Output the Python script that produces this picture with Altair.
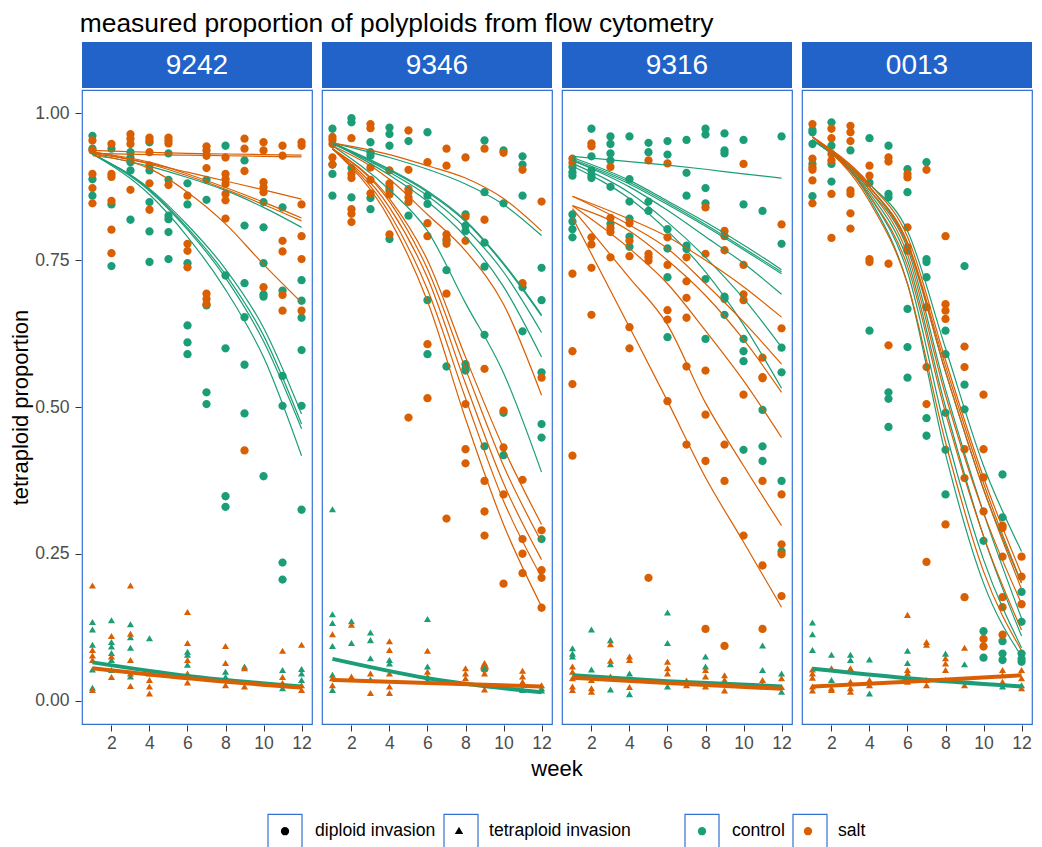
import altair as alt
import pandas as pd

PANELS = ["9242", "9346", "9316", "0013"]
TREATMENTS = ["control", "salt"]
INVASIONS = ["diploid invasion", "tetraploid invasion"]
GREEN, ORANGE = "#1b9e77", "#d95f02"
STRIP = "#2163c9"
BORDER = "#3571d3"
W, H = 230, 634

# ---------------- observed points (week -> values) ----------------
dip_9242_control = {1: [0.962, 0.94, 0.888, 0.86], 2: [0.94, 0.845, 0.74], 3: [0.934, 0.925, 0.917, 0.903, 0.819],
                    4: [0.951, 0.903, 0.849, 0.799, 0.747], 5: [0.932, 0.887, 0.826, 0.82, 0.798, 0.752],
                    6: [0.881, 0.845, 0.745, 0.639, 0.61, 0.59], 7: [0.887, 0.853, 0.673, 0.525, 0.505],
                    8: [0.945, 0.724, 0.6, 0.348, 0.33], 9: [0.92, 0.809, 0.711, 0.653, 0.572, 0.489],
                    10: [0.849, 0.806, 0.745, 0.692, 0.688, 0.382], 11: [0.84, 0.698, 0.553, 0.502, 0.235, 0.206],
                    12: [0.716, 0.681, 0.652, 0.597, 0.502, 0.325]}
dip_9242_salt = {1: [0.954, 0.937, 0.897, 0.873, 0.847], 2: [0.948, 0.897, 0.892, 0.851, 0.802, 0.762],
                 3: [0.965, 0.957, 0.948, 0.87], 4: [0.959, 0.954, 0.934, 0.911, 0.881, 0.836],
                 5: [0.959, 0.954, 0.949, 0.878], 6: [0.86, 0.778, 0.766, 0.738],
                 7: [0.944, 0.937, 0.928, 0.907, 0.693, 0.684, 0.675], 8: [0.925, 0.897, 0.888, 0.88, 0.863, 0.852, 0.821],
                 9: [0.957, 0.94, 0.902, 0.426], 10: [0.951, 0.937, 0.883, 0.874, 0.866, 0.704],
                 11: [0.945, 0.928, 0.783, 0.765, 0.691, 0.664], 12: [0.951, 0.945, 0.845, 0.791, 0.752, 0.664]}
tet_9242_control = {1: [0.133, 0.12, 0.094, 0.052, 0.021], 2: [0.136, 0.099, 0.091, 0.08, 0.068, 0.051],
                    3: [0.129, 0.107, 0.089, 0.04], 4: [0.105], 6: [0.082, 0.077, 0.06], 8: [0.048, 0.039],
                    9: [0.057], 11: [0.051, 0.02], 12: [0.053, 0.045, 0.034]}
tet_9242_salt = {1: [0.195, 0.085, 0.076, 0.068, 0.017], 2: [0.109, 0.074, 0.039], 3: [0.195, 0.113, 0.068, 0.045, 0.024],
                 4: [0.045, 0.034, 0.023, 0.011], 6: [0.15, 0.097, 0.068, 0.045, 0.03], 8: [0.092, 0.063, 0.025],
                 9: [0.054, 0.023], 11: [0.084, 0.039, 0.029], 12: [0.094, 0.025, 0.017]}

dip_9346_control = {1: [0.974, 0.913, 0.897, 0.86], 2: [0.992, 0.985, 0.907, 0.857], 3: [0.951, 0.934, 0.928, 0.856, 0.837],
                    4: [0.976, 0.965, 0.945, 0.869, 0.786], 5: [0.953, 0.826], 6: [0.968, 0.86, 0.846, 0.682, 0.59],
                    7: [0.783, 0.733, 0.569], 8: [0.828, 0.809, 0.8, 0.573, 0.565, 0.562],
                    9: [0.954, 0.866, 0.78, 0.739, 0.623, 0.433], 10: [0.937, 0.847, 0.49, 0.418],
                    11: [0.927, 0.913, 0.86, 0.704, 0.629], 12: [0.737, 0.682, 0.559, 0.471, 0.448, 0.275]}
dip_9346_salt = {1: [0.96, 0.955, 0.948, 0.925, 0.913], 2: [0.958, 0.897, 0.89, 0.837, 0.829, 0.815],
                 3: [0.982, 0.975, 0.908, 0.887, 0.864], 4: [0.903, 0.881, 0.874, 0.862, 0.794],
                 5: [0.971, 0.904, 0.871, 0.866, 0.857, 0.849, 0.482], 6: [0.917, 0.813, 0.791, 0.607, 0.515],
                 7: [0.94, 0.911, 0.794, 0.786, 0.778, 0.693, 0.31], 8: [0.925, 0.824, 0.783, 0.505, 0.428, 0.404],
                 9: [0.94, 0.819, 0.565, 0.374, 0.322, 0.281, 0.054], 10: [0.933, 0.494, 0.431, 0.351, 0.199],
                 11: [0.904, 0.711, 0.376, 0.275, 0.25, 0.217], 12: [0.85, 0.55, 0.29, 0.222, 0.209, 0.158]}
tet_9346_control = {1: [0.325, 0.146, 0.131, 0.092, 0.043, 0.017], 2: [0.134, 0.097], 3: [0.115, 0.102, 0.071, 0.035],
                    4: [0.068, 0.062], 6: [0.138, 0.057, 0.034], 9: [0.054], 11: [0.017], 12: [0.02, 0.016]}
tet_9346_salt = {1: [0.112, 0.037, 0.025], 2: [0.128, 0.04], 3: [0.045, 0.012], 4: [0.1, 0.085, 0.045, 0.023, 0.012],
                 6: [0.084, 0.048, 0.04], 8: [0.054, 0.045, 0.037], 9: [0.063, 0.045, 0.018],
                 11: [0.05, 0.04, 0.031], 12: [0.025]}

dip_9316_control = {1: [0.909, 0.9, 0.894, 0.828, 0.816, 0.803, 0.789], 2: [0.974, 0.927, 0.903, 0.894, 0.89],
                    3: [0.961, 0.948, 0.932, 0.92, 0.875, 0.812], 4: [0.961, 0.888, 0.85, 0.821, 0.79, 0.773],
                    5: [0.95, 0.934, 0.85, 0.834], 6: [0.953, 0.93, 0.803, 0.77, 0.721, 0.619],
                    7: [0.955, 0.899, 0.86, 0.775, 0.769], 8: [0.974, 0.964, 0.873, 0.847, 0.718, 0.616],
                    9: [0.966, 0.937, 0.932, 0.688, 0.684, 0.657], 10: [0.955, 0.845, 0.616, 0.595, 0.578, 0.427],
                    11: [0.834, 0.495, 0.433, 0.408], 12: [0.961, 0.778, 0.601, 0.559, 0.374, 0.254]}
dip_9316_salt = {1: [0.923, 0.916, 0.727, 0.595, 0.539, 0.417], 2: [0.949, 0.944, 0.789, 0.777, 0.737, 0.657],
                 3: [0.909, 0.822, 0.805, 0.798, 0.755], 4: [0.813, 0.783, 0.757, 0.636, 0.6],
                 5: [0.92, 0.761, 0.755, 0.749, 0.209], 6: [0.915, 0.789, 0.742, 0.665, 0.649, 0.51],
                 7: [0.755, 0.714, 0.686, 0.652, 0.569, 0.436], 8: [0.84, 0.761, 0.562, 0.487, 0.408, 0.122],
                 9: [0.8, 0.791, 0.767, 0.436, 0.374, 0.093], 10: [0.914, 0.742, 0.692, 0.682, 0.521, 0.281],
                 11: [0.584, 0.551, 0.549, 0.374, 0.23, 0.122], 12: [0.811, 0.634, 0.351, 0.266, 0.249, 0.178]}
tet_9316_control = {1: [0.088, 0.079, 0.074], 2: [0.12, 0.052], 3: [0.102, 0.061, 0.018], 4: [0.045, 0.01],
                    6: [0.149, 0.097, 0.023], 8: [0.074, 0.057], 9: [0.033], 11: [0.093, 0.051], 12: [0.045, 0.014]}
tet_9316_salt = {1: [0.057, 0.048, 0.037, 0.023, 0.017], 2: [0.034, 0.02, 0.014], 3: [0.095, 0.067, 0.04],
                 4: [0.074, 0.068, 0.022], 6: [0.065, 0.054, 0.045], 7: [0.033, 0.025], 8: [0.051, 0.04, 0.023],
                 9: [0.042, 0.034, 0.016], 11: [0.034, 0.025], 12: [0.037, 0.022]}

dip_0013_control = {1: [0.972, 0.968, 0.948, 0.914, 0.859], 2: [0.985, 0.945, 0.914, 0.884], 3: [0.937],
                    4: [0.958, 0.882, 0.63], 5: [0.945, 0.863, 0.857, 0.525, 0.514, 0.466],
                    6: [0.905, 0.866, 0.667, 0.602, 0.55], 7: [0.917, 0.752, 0.747, 0.721, 0.481, 0.451],
                    8: [0.63, 0.59, 0.49, 0.427, 0.351], 9: [0.74, 0.538, 0.496], 10: [0.272, 0.118, 0.073],
                    11: [0.385, 0.312, 0.101, 0.08, 0.069], 12: [0.185, 0.134, 0.08, 0.071, 0.066]}
dip_0013_salt = {1: [0.982, 0.923, 0.908, 0.904, 0.886, 0.847], 2: [0.974, 0.958, 0.931, 0.92, 0.863, 0.788],
                 3: [0.979, 0.968, 0.953, 0.869, 0.863, 0.83, 0.804], 4: [0.911, 0.894, 0.752, 0.747],
                 5: [0.925, 0.918, 0.744, 0.605], 6: [0.897, 0.891, 0.806, 0.772, 0.766],
                 7: [0.904, 0.67, 0.568, 0.505, 0.236], 8: [0.791, 0.675, 0.664, 0.65, 0.3],
                 9: [0.603, 0.568, 0.428, 0.379, 0.176], 10: [0.521, 0.428, 0.38, 0.322, 0.105, 0.092],
                 11: [0.298, 0.294, 0.245, 0.176, 0.159, 0.112], 12: [0.245, 0.211, 0.164]}
tet_0013_control = {1: [0.132, 0.112, 0.085], 2: [0.077, 0.034], 3: [0.077, 0.068], 4: [0.069, 0.011],
                    6: [0.084, 0.063], 8: [0.079, 0.034], 9: [0.061], 11: [0.023], 12: [0.025]}
tet_0013_salt = {1: [0.052, 0.045, 0.038, 0.023, 0.016], 2: [0.054, 0.02, 0.017], 3: [0.054, 0.031, 0.02, 0.014],
                 4: [0.034, 0.025], 6: [0.145, 0.051, 0.045, 0.031], 7: [0.099, 0.094, 0.034, 0.025],
                 8: [0.071, 0.062, 0.051], 9: [0.089, 0.025], 11: [0.051, 0.042, 0.031], 12: [0.051, 0.037, 0.02]}

# ---------------- fitted curves, read at these weeks ----------------
CURVE_WEEKS = [1, 4, 6, 8, 10, 12]
TET_WEEKS = [1, 6, 12]

dcurves_9242_control = [[0.931, 0.91, 0.891, 0.869, 0.84, 0.806],
                        [0.931, 0.872, 0.81, 0.735, 0.635, 0.488],
                        [0.931, 0.87, 0.805, 0.726, 0.622, 0.471],
                        [0.931, 0.868, 0.802, 0.72, 0.612, 0.463],
                        [0.931, 0.862, 0.79, 0.70, 0.585, 0.417]]
dcurves_9242_salt = [[0.937, 0.934, 0.932, 0.931, 0.93, 0.929],
                     [0.932, 0.93, 0.929, 0.928, 0.927, 0.926],
                     [0.935, 0.915, 0.90, 0.885, 0.87, 0.854],
                     [0.934, 0.917, 0.897, 0.874, 0.849, 0.822],
                     [0.932, 0.914, 0.894, 0.871, 0.845, 0.817],
                     [0.928, 0.906, 0.866, 0.812, 0.743, 0.678]]
dcurves_9346_control = [[0.95, 0.925, 0.905, 0.88, 0.845, 0.792],
                        [0.95, 0.905, 0.868, 0.818, 0.745, 0.657],
                        [0.948, 0.903, 0.866, 0.816, 0.743, 0.655],
                        [0.95, 0.90, 0.86, 0.805, 0.73, 0.627],
                        [0.95, 0.895, 0.85, 0.79, 0.705, 0.585],
                        [0.945, 0.87, 0.80, 0.677, 0.558, 0.389]]
dcurves_9346_salt = [[0.95, 0.93, 0.911, 0.89, 0.855, 0.80],
                     [0.945, 0.888, 0.828, 0.766, 0.675, 0.52],
                     [0.94, 0.855, 0.75, 0.585, 0.43, 0.30],
                     [0.94, 0.85, 0.735, 0.565, 0.40, 0.27],
                     [0.94, 0.84, 0.72, 0.54, 0.37, 0.24],
                     [0.94, 0.83, 0.70, 0.515, 0.34, 0.21],
                     [0.94, 0.82, 0.68, 0.48, 0.30, 0.16]]
dcurves_9316_control = [[0.927, 0.918, 0.912, 0.905, 0.897, 0.89],
                        [0.925, 0.886, 0.851, 0.815, 0.776, 0.734],
                        [0.922, 0.883, 0.848, 0.811, 0.771, 0.73],
                        [0.92, 0.88, 0.845, 0.808, 0.768, 0.727],
                        [0.92, 0.875, 0.835, 0.79, 0.745, 0.692],
                        [0.915, 0.865, 0.815, 0.755, 0.685, 0.602],
                        [0.91, 0.855, 0.80, 0.73, 0.64, 0.532]]
dcurves_9316_salt = [[0.859, 0.82, 0.79, 0.75, 0.705, 0.653],
                     [0.859, 0.81, 0.77, 0.71, 0.645, 0.573],
                     [0.843, 0.80, 0.75, 0.69, 0.615, 0.525],
                     [0.843, 0.77, 0.71, 0.63, 0.545, 0.448],
                     [0.838, 0.72, 0.64, 0.507, 0.40, 0.298],
                     [0.823, 0.636, 0.51, 0.38, 0.27, 0.159]]
dcurves_0013_control = [[0.955, 0.88, 0.80, 0.60, 0.40, 0.254],
                        [0.955, 0.875, 0.78, 0.56, 0.36, 0.20],
                        [0.955, 0.87, 0.77, 0.53, 0.32, 0.14],
                        [0.955, 0.865, 0.75, 0.50, 0.28, 0.11],
                        [0.955, 0.86, 0.73, 0.46, 0.24, 0.09],
                        [0.955, 0.855, 0.71, 0.42, 0.20, 0.075]]
dcurves_0013_salt = [[0.96, 0.88, 0.79, 0.58, 0.38, 0.215],
                     [0.96, 0.875, 0.78, 0.57, 0.37, 0.20],
                     [0.96, 0.875, 0.775, 0.56, 0.36, 0.19],
                     [0.96, 0.87, 0.76, 0.52, 0.32, 0.165],
                     [0.96, 0.86, 0.74, 0.49, 0.28, 0.12],
                     [0.96, 0.85, 0.71, 0.44, 0.22, 0.085]]

tcurve_9242_control = [0.065, 0.042, 0.024]
tcurve_9242_salt = [0.055, 0.038, 0.022]
tcurve_9346_control = [0.071, 0.038, 0.014]
tcurve_9346_salt = [0.035, 0.030, 0.024]
tcurve_9316_control = [0.043, 0.033, 0.024]
tcurve_9316_salt = [0.039, 0.030, 0.020]
tcurve_0013_control = [0.054, 0.038, 0.024]
tcurve_0013_salt = [0.024, 0.032, 0.043]

POINTS = {
    ("9242", "control", "diploid invasion"): dip_9242_control, ("9242", "salt", "diploid invasion"): dip_9242_salt,
    ("9242", "control", "tetraploid invasion"): tet_9242_control, ("9242", "salt", "tetraploid invasion"): tet_9242_salt,
    ("9346", "control", "diploid invasion"): dip_9346_control, ("9346", "salt", "diploid invasion"): dip_9346_salt,
    ("9346", "control", "tetraploid invasion"): tet_9346_control, ("9346", "salt", "tetraploid invasion"): tet_9346_salt,
    ("9316", "control", "diploid invasion"): dip_9316_control, ("9316", "salt", "diploid invasion"): dip_9316_salt,
    ("9316", "control", "tetraploid invasion"): tet_9316_control, ("9316", "salt", "tetraploid invasion"): tet_9316_salt,
    ("0013", "control", "diploid invasion"): dip_0013_control, ("0013", "salt", "diploid invasion"): dip_0013_salt,
    ("0013", "control", "tetraploid invasion"): tet_0013_control, ("0013", "salt", "tetraploid invasion"): tet_0013_salt,
}
DCURVES = {
    ("9242", "control"): dcurves_9242_control, ("9242", "salt"): dcurves_9242_salt,
    ("9346", "control"): dcurves_9346_control, ("9346", "salt"): dcurves_9346_salt,
    ("9316", "control"): dcurves_9316_control, ("9316", "salt"): dcurves_9316_salt,
    ("0013", "control"): dcurves_0013_control, ("0013", "salt"): dcurves_0013_salt,
}
TCURVES = {
    ("9242", "control"): tcurve_9242_control, ("9242", "salt"): tcurve_9242_salt,
    ("9346", "control"): tcurve_9346_control, ("9346", "salt"): tcurve_9346_salt,
    ("9316", "control"): tcurve_9316_control, ("9316", "salt"): tcurve_9316_salt,
    ("0013", "control"): tcurve_0013_control, ("0013", "salt"): tcurve_0013_salt,
}

rows = []
for (panel, trt, inv), byweek in POINTS.items():
    for wk, vals in byweek.items():
        for v in vals:
            rows.append(dict(panel=panel, kind="point", treatment=trt, invasion=inv, week=wk, value=v, curve=""))
for (panel, trt), curves in DCURVES.items():
    for i, c in enumerate(curves):
        for wk, v in zip(CURVE_WEEKS, c):
            rows.append(dict(panel=panel, kind="dcurve", treatment=trt, invasion="diploid invasion",
                             week=wk, value=v, curve=f"{panel}-{trt}-d{i}"))
for (panel, trt), c in TCURVES.items():
    for wk, v in zip(TET_WEEKS, c):
        rows.append(dict(panel=panel, kind="tcurve", treatment=trt, invasion="tetraploid invasion",
                         week=wk, value=v, curve=f"{panel}-{trt}-t"))
for panel in PANELS:
    rows.append(dict(panel=panel, kind="strip", treatment="control", invasion="diploid invasion",
                     week=1, value=0.0, curve=""))
df = pd.DataFrame(rows)

# The blue key boxes come from one extra legend (hidden labels) with four entries.
# Its second hidden label is padded so the last two boxes land under control / salt.
KEY_BOX = ["diploid invasion", "tetraploid invasionmmm", "control", "salt"]
df["key_box"] = df["invasion"].map({"diploid invasion": KEY_BOX[0], "tetraploid invasion": KEY_BOX[1]})

FONT = "Liberation Sans"
# custom symbols drawn inside a [-1, 1] box, so that legend keys can be large boxes
DOT = "M-0.2,0A0.2,0.2,0,1,0,0.2,0A0.2,0.2,0,1,0,-0.2,0Z"
TRI = "M0,-0.17L0.17,0.12L-0.17,0.12Z"
KEY = 1156  # legend key area (34 px boxes)
LEG_Y = 723
SHAPE_X, COLOR_X = 185, 602

x = alt.X("week:Q", scale=alt.Scale(domain=[0.45, 12.55], nice=False, zero=False),
          axis=alt.Axis(values=[2, 4, 6, 8, 10, 12], title=None, labelPadding=3))
y = alt.Y("value:Q", scale=alt.Scale(domain=[-0.04, 1.04], nice=False, zero=False),
          axis=alt.Axis(values=[0, 0.25, 0.5, 0.75, 1.0], format=".2f", title="tetraploid proportion"))
leg_common = dict(title=None, orient="none", direction="horizontal", symbolSize=KEY, labelFontSize=17.6,
                  labelOffset=12, columnPadding=5, padding=0, legendY=LEG_Y, labelLimit=400)
color = alt.Color("treatment:N", scale=alt.Scale(domain=TREATMENTS, range=[GREEN, ORANGE]),
                  legend=alt.Legend(symbolType=DOT, legendX=COLOR_X, **leg_common))

strip = alt.Chart().transform_filter(alt.datum.kind == "strip").mark_rect(
    clip=False, color=STRIP).encode(x=alt.value(0), x2=alt.value(W), y=alt.value(-48), y2=alt.value(-2))
strip_text = alt.Chart().transform_filter(alt.datum.kind == "strip").mark_text(
    clip=False, color="white", fontSize=28, font=FONT, baseline="middle", align="center").encode(
    x=alt.value(W / 2), y=alt.value(-24), text="panel:N")

points = alt.Chart().transform_filter(alt.datum.kind == "point").mark_point(
    filled=True, opacity=1, size=1720).encode(
    x=x, y=y, color=color,
    shape=alt.Shape("invasion:N", scale=alt.Scale(domain=INVASIONS, range=[DOT, TRI]),
                    legend=alt.Legend(symbolFillColor="black", symbolStrokeColor="black",
                                      legendX=SHAPE_X, **leg_common)),
    opacity=alt.Opacity("key_box:N", scale=alt.Scale(domain=KEY_BOX, range=[1, 1, 1, 1]),
                        legend=alt.Legend(
                            symbolType="square", symbolFillColor="transparent", symbolStrokeColor=BORDER,
                            symbolStrokeWidth=1.2, symbolOpacity=1, labelOpacity=0,
                            legendX=SHAPE_X, **leg_common)),
)
dlines = alt.Chart().transform_filter(alt.datum.kind == "dcurve").mark_line(
    strokeWidth=1.2, interpolate="monotone").encode(x=x, y=y, color=color, detail="curve:N")
tlines = alt.Chart().transform_filter(alt.datum.kind == "tcurve").mark_line(
    strokeWidth=4, interpolate="monotone").encode(x=x, y=y, color=color, detail="curve:N")

layered = alt.layer(strip, strip_text, points, dlines, tlines, data=df).properties(width=W, height=H)

chart = layered.facet(
    column=alt.Column("panel:N", sort=PANELS,
                      header=alt.Header(labels=False, title="week", titleOrient="bottom", titleFontSize=22,
                                        titleFont=FONT, titleFontWeight="normal", titleColor="black",
                                        titlePadding=-3)),
    spacing=8,
).properties(
    title=alt.Title("measured proportion of polyploids from flow cytometry", anchor="start",
                    fontSize=26.4, fontWeight="normal", color="black", font=FONT, offset=4, dx=70),
    padding={"left": 1, "top": 3, "right": 0, "bottom": 0},
).configure_view(
    stroke=BORDER, strokeWidth=1.2
).configure_axis(
    domain=False, grid=False, labelColor="#4d4d4d", labelFontSize=17.6, labelFont=FONT,
    tickColor="#333333", tickSize=6, labelPadding=6, titleFont=FONT, titleFontSize=22,
    titleFontWeight="normal", titleColor="black", titlePadding=2
).configure_legend(
    labelFont=FONT, labelColor="black"
)

chart.save("out.html", embed_options={"renderer": "svg", "actions": False})
